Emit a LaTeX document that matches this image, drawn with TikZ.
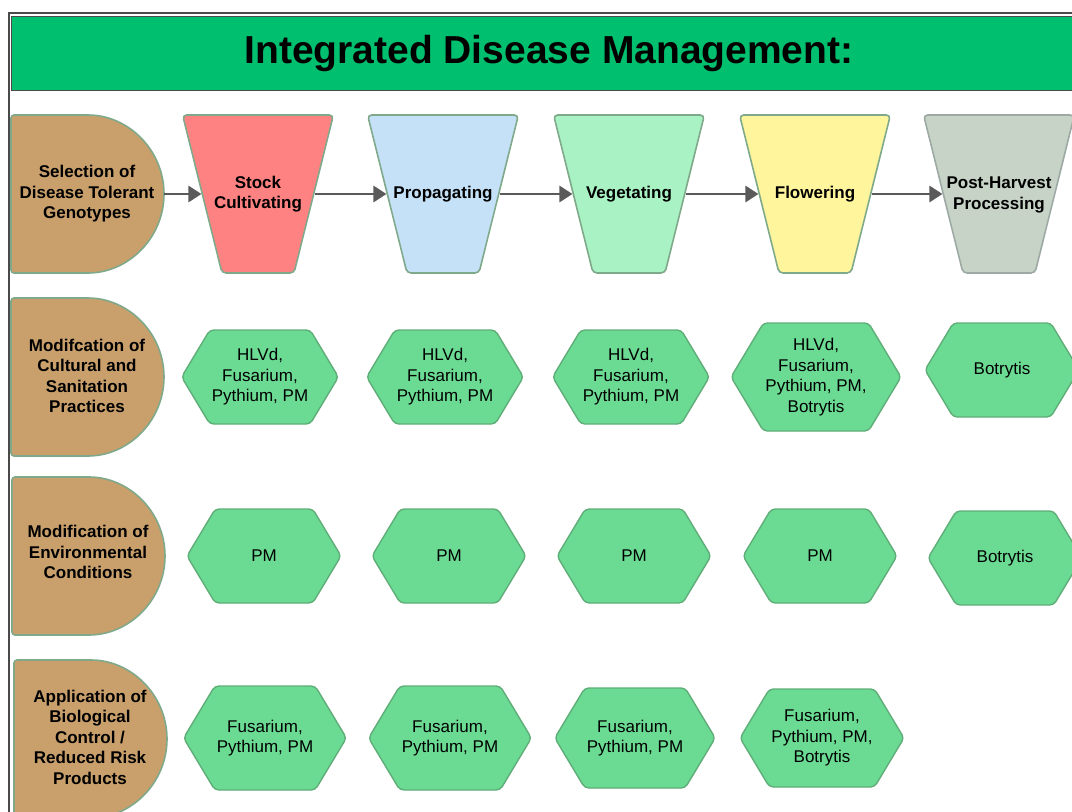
\documentclass[tikz,border=0pt]{standalone}
\usepackage{fontspec}
\setmainfont{Liberation Sans}
\usepackage{tikz}
\usetikzlibrary{shapes.geometric,shapes.symbols,arrows.meta}

\definecolor{titlegreen}{HTML}{00BF6F}
\definecolor{framegray}{HTML}{4A4A4A}
\definecolor{tan}{HTML}{C9A06C}
\definecolor{tanedge}{HTML}{7FA98A}
\definecolor{stockred}{HTML}{FF8282}
\definecolor{propblue}{HTML}{C5E1F8}
\definecolor{veggreen}{HTML}{A8F2C3}
\definecolor{flowyellow}{HTML}{FFF59D}
\definecolor{postgray}{HTML}{C6D3C6}
\definecolor{postedge}{HTML}{9DAAA4}
\definecolor{hexgreen}{HTML}{6BDB93}
\definecolor{hexedge}{HTML}{5FAD78}
\definecolor{arrowgray}{HTML}{5A5A5A}

\tikzset{
  practice/.style={fill=tan,draw=tanedge,line width=1.6pt,rounded corners=3pt},
  phase/.style={trapezium,shape border rotate=180,trapezium angle=76,
    draw=tanedge,line width=1.6pt,rounded corners=4pt,inner xsep=36pt,inner ysep=79pt},
  label/.style={align=center,font=\fontsize{17}{20.5}\selectfont\bfseries},
  disease/.style={signal,signal to=east and west,signal pointer angle=118,fill=hexgreen,
    draw=hexedge,line width=1.4pt,rounded corners=4pt,minimum width=154pt,minimum height=94pt,
    inner sep=2pt,align=center,font=\fontsize{17}{20.5}\selectfont},
  flowarrow/.style={draw=arrowgray,line width=2.8pt,-{Triangle[length=13pt,width=16pt]}}
}

% half-round box: left edge, middle height
\newcommand{\practiceshape}[2]{%
  \draw [practice] (#1,#2-79) -- (#1+74,#2-79) arc [start angle=-90,end angle=90,radius=79]
    -- (#1,#2+79) -- cycle;}

\begin{document}
\begin{tikzpicture}[x=1pt,y=-1pt]
  \useasboundingbox (0,0) rectangle (1072,812);
  % frame and title
  \node [fill=titlegreen,draw=framegray,line width=1pt,minimum width=1076pt,minimum height=74pt,
    font=\fontsize{39}{44}\selectfont\bfseries] (title) at (549,53) {Integrated Disease Management:};
  \draw [framegray,line width=2pt] (1072,13) -- (9,13) -- (9,812);

  % practices
  \practiceshape{11}{194}
  \practiceshape{11}{377}
  \practiceshape{12}{556}
  \practiceshape{14}{739}
  \node [label] (sel) at (87,194) {Selection of\\Disease Tolerant\\Genotypes};
  \node [label] (cult) at (87,376) {Modifcation of\\Cultural and\\Sanitation\\Practices};
  \node [label] (env) at (88,552) {Modification of\\Environmental\\Conditions};
  \node [label] (bio) at (90,737) {Application of\\Biological\\Control /\\Reduced Risk\\Products};
  \coordinate (seltip) at (164,194);

  % growth phases
  \node [phase,fill=stockred] (stock) at (258,194) {};
  \node [phase,fill=propblue] (prop) at (443,194) {};
  \node [phase,fill=veggreen] (veg) at (629,194) {};
  \node [phase,fill=flowyellow] (flow) at (815,194) {};
  \node [phase,fill=postgray,draw=postedge] (post) at (999,194) {};
  \node [label] (stocktext) at (258,194) {Stock\\Cultivating};
  \node [label] (proptext) at (443,194) {Propagating};
  \node [label] (vegtext) at (629,194) {Vegetating};
  \node [label] (flowtext) at (815,194) {Flowering};
  \node [label] (posttext) at (999,195) {Post-Harvest\\Processing};

  \draw [flowarrow] (seltip) -- (stock);
  \draw [flowarrow] (stock) -- (prop);
  \draw [flowarrow] (prop) -- (veg);
  \draw [flowarrow] (veg) -- (flow);
  \draw [flowarrow] (flow) -- (post);

  % cultural and sanitation
  \node [disease] (cultstock) at (260,377) {HLVd,\\Fusarium,\\Pythium, PM};
  \node [disease] (cultprop) at (445,377) {HLVd,\\Fusarium,\\Pythium, PM};
  \node [disease] (cultveg) at (631,377) {HLVd,\\Fusarium,\\Pythium, PM};
  \node [disease,minimum height=108pt] (cultflow) at (816,377) {HLVd,\\Fusarium,\\Pythium, PM,\\Botrytis};
  \node [disease] (cultpost) at (1002,370) {Botrytis};

  % environmental
  \node [disease] (envstock) at (264,556) {PM};
  \node [disease] (envprop) at (449,556) {PM};
  \node [disease] (envveg) at (634,556) {PM};
  \node [disease] (envflow) at (820,556) {PM};
  \node [disease] (envpost) at (1005,558) {Botrytis};

  % biological control
  \node [disease,minimum height=104pt] (biostock) at (265,738) {Fusarium,\\Pythium, PM};
  \node [disease,minimum height=104pt] (bioprop) at (450,738) {Fusarium,\\Pythium, PM};
  \node [disease,minimum height=100pt] (bioveg) at (635,738) {Fusarium,\\Pythium, PM};
  \node [disease,minimum height=98pt] (bioflow) at (822,738) {Fusarium,\\Pythium, PM,\\Botrytis};
\end{tikzpicture}
\end{document}
